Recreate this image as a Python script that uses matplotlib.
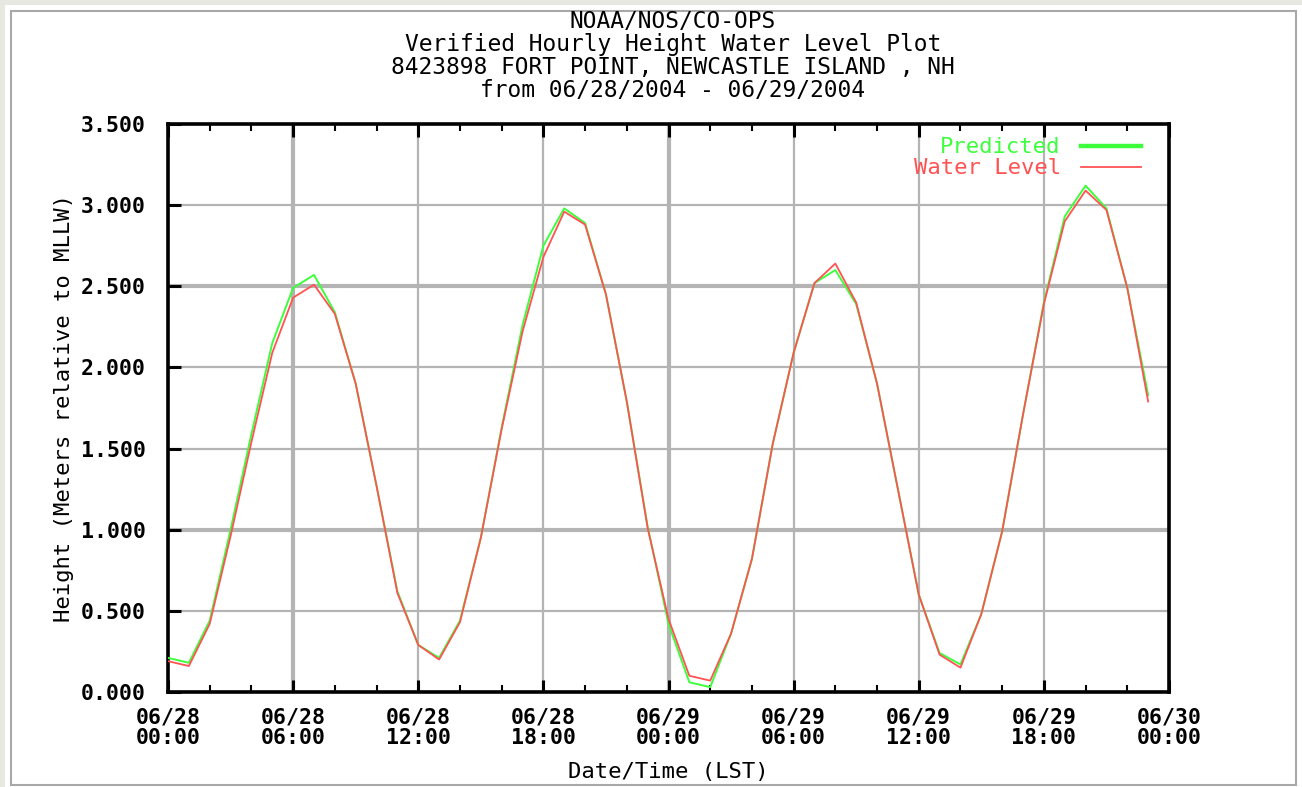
import matplotlib
matplotlib.use("Agg")
import matplotlib.pyplot as plt
from matplotlib.patches import Rectangle
from matplotlib.lines import Line2D
from matplotlib.ticker import MultipleLocator, FixedLocator, FuncFormatter

# ---- data ----
hours = list(range(48))  # hours since 06/28/2004 00:00 LST
predicted = [0.21, 0.18, 0.44, 1.00, 1.59, 2.15, 2.49, 2.57, 2.34, 1.90,
             1.27, 0.62, 0.29, 0.21, 0.44, 0.95, 1.63, 2.26, 2.75, 2.98,
             2.89, 2.45, 1.79, 1.02, 0.42, 0.06, 0.03, 0.36, 0.82, 1.53,
             2.09, 2.52, 2.60, 2.39, 1.90, 1.25, 0.60, 0.24, 0.17, 0.48,
             0.99, 1.71, 2.40, 2.93, 3.12, 2.98, 2.49, 1.83]
water_level = [0.19, 0.16, 0.42, 0.96, 1.54, 2.09, 2.43, 2.51, 2.33, 1.90,
               1.27, 0.61, 0.29, 0.20, 0.43, 0.95, 1.62, 2.22, 2.68, 2.96,
               2.88, 2.45, 1.79, 1.01, 0.45, 0.10, 0.07, 0.36, 0.82, 1.53,
               2.09, 2.52, 2.64, 2.40, 1.90, 1.25, 0.60, 0.23, 0.15, 0.48,
               0.99, 1.71, 2.39, 2.90, 3.09, 2.97, 2.49, 1.79]
xtick_hours = [0, 6, 12, 18, 24, 30, 36, 42, 48]
xtick_labels = ["06/28\n00:00", "06/28\n06:00", "06/28\n12:00", "06/28\n18:00",
                "06/29\n00:00", "06/29\n06:00", "06/29\n12:00", "06/29\n18:00",
                "06/30\n00:00"]
title_lines = ["NOAA/NOS/CO-OPS",
               "Verified Hourly Height Water Level Plot",
               "8423898 FORT POINT, NEWCASTLE ISLAND , NH",
               "from 06/28/2004 - 06/29/2004"]

GREEN = "#3cff3c"
RED = "#ff5252"
GRID = "#b4b4b4"
MONO = ["DejaVu Sans Mono"]

W, H = 1302, 787
fig = plt.figure(figsize=(W / 100, H / 100), dpi=100)
fig.patch.set_facecolor("white")

# page frame
fig.patches.append(Rectangle((0, 1 - 5 / H), 1, 5 / H, transform=fig.transFigure,
                             facecolor="#e8e8e2", edgecolor="none", zorder=0))
fig.patches.append(Rectangle((0, 0), 5 / W, 1, transform=fig.transFigure,
                             facecolor="#e8e8e2", edgecolor="none", zorder=0))
fig.patches.append(Rectangle((11 / W, 1 - 785 / H), (1296 - 11) / W, (785 - 11) / H,
                             transform=fig.transFigure, facecolor="none",
                             edgecolor="#a8a8a8", linewidth=1.5, zorder=0))

L, R, T, B = 168, 1169, 124, 692
ax = fig.add_axes([L / W, 1 - B / H, (R - L) / W, (B - T) / H])

ax.plot(hours, predicted, color=GREEN, linewidth=1.4, zorder=3)
ax.plot(hours, water_level, color=RED, linewidth=1.3, zorder=4)

ax.set_xlim(0, 48)
ax.set_ylim(0, 3.5)

ax.xaxis.set_major_locator(FixedLocator(xtick_hours))
ax.set_xticklabels(xtick_labels)
ax.xaxis.set_minor_locator(MultipleLocator(2))
ax.yaxis.set_major_locator(MultipleLocator(0.5))
ax.yaxis.set_major_formatter(FuncFormatter(lambda v, p: f"{v:.3f}"))

ax.tick_params(axis="x", which="major", direction="in", top=True, bottom=True,
               length=9, width=2.2, color="black", pad=11)
ax.tick_params(axis="x", which="minor", direction="in", top=True, bottom=True,
               length=5, width=1.5, color="black")
ax.tick_params(axis="y", which="major", direction="in", left=True, right=False,
               length=9, width=2.2, color="black", pad=16)

for lab in ax.get_xticklabels() + ax.get_yticklabels():
    lab.set_family(MONO)
    lab.set_fontsize(15.5)
    lab.set_fontweight("bold")
    lab.set_linespacing(1.05)

ax.grid(True, which="major", color=GRID, linewidth=1.6, zorder=1)
ax.set_axisbelow(True)
# heavier grid lines as in the reference rendering
for i, gl in enumerate(ax.xaxis.get_gridlines()):
    if xtick_hours[i] in (6, 24):
        gl.set_linewidth(3.0)
yt = ax.get_yticks()
for v, gl in zip(yt, ax.yaxis.get_gridlines()):
    if abs(v - 2.5) < 1e-6 or abs(v - 1.0) < 1e-6:
        gl.set_linewidth(3.0)

for s in ax.spines.values():
    s.set_linewidth(2.6)
    s.set_color("black")

ax.set_xlabel("Date/Time (LST)", family=MONO, fontsize=16, labelpad=10)
ax.set_ylabel("Height (Meters relative to MLLW)", family=MONO, fontsize=16, labelpad=5)

for i, line in enumerate(title_lines):
    fig.text(673 / W, 1 - (22 + i * 22.7) / H, line, ha="center", va="center",
             family=MONO, fontsize=16.5)

handles = [Line2D([], [], color=GREEN, linewidth=3.2),
           Line2D([], [], color=RED, linewidth=1.3)]
leg = ax.legend(handles, ["Predicted", "Water Level"], loc="upper right",
                frameon=False, prop={"family": MONO, "size": 16},
                markerfirst=False, handlelength=2.7, handletextpad=0.9,
                labelspacing=0.05, borderaxespad=0.2, bbox_to_anchor=(0.985, 1.0))
for txt, c in zip(leg.get_texts(), [GREEN, RED]):
    txt.set_color(c)

fig.savefig("out.png", dpi=100, facecolor=fig.get_facecolor())
